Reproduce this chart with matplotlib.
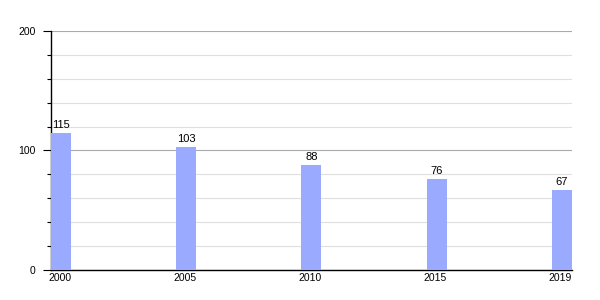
import numpy as np
import matplotlib
matplotlib.use("Agg")
import matplotlib.pyplot as plt
from matplotlib.ticker import MultipleLocator

plt.rcParams["font.family"] = ["Liberation Sans", "DejaVu Sans"]

# data
years = ["2000", "2005", "2010", "2015", "2019"]
values = [115, 103, 88, 76, 67]

bar_color = "#9aabff"
bar_width = 0.16

fig = plt.figure(figsize=(6, 3), dpi=100)
ax = fig.add_axes([0.085, 0.1, 0.868, 0.797])

x = np.arange(len(years))
ax.bar(x, values, width=bar_width, align="edge", color=bar_color, zorder=3)

for xi, v in zip(x, values):
    ax.annotate(f"{v}", (xi + bar_width / 2, v), xytext=(0, 2),
                textcoords="offset points", ha="center", va="bottom",
                fontsize=8, zorder=4)

ax.set_xlim(0, len(years) - 1 + bar_width)
ax.set_ylim(0, 200)
ax.set_xticks(x + bar_width / 2 - 0.01)
ax.set_xticklabels(years)
ax.tick_params(axis="x", length=0, pad=2, labelsize=7.5)

ax.yaxis.set_major_locator(MultipleLocator(100))
ax.yaxis.set_minor_locator(MultipleLocator(20))
ax.tick_params(axis="y", which="major", length=6, width=0.8, pad=5, labelsize=7.5)
ax.tick_params(axis="y", which="minor", length=3, width=0.8)

ax.grid(True, axis="y", which="major", color="#aaaaaa", linewidth=0.8, zorder=0)
ax.grid(True, axis="y", which="minor", color="#dfdfdf", linewidth=0.8, zorder=0)

ax.spines["top"].set_visible(False)
ax.spines["right"].set_visible(False)
ax.spines["left"].set_linewidth(1.0)
ax.spines["bottom"].set_linewidth(1.0)

fig.savefig("out.png", dpi=100)
